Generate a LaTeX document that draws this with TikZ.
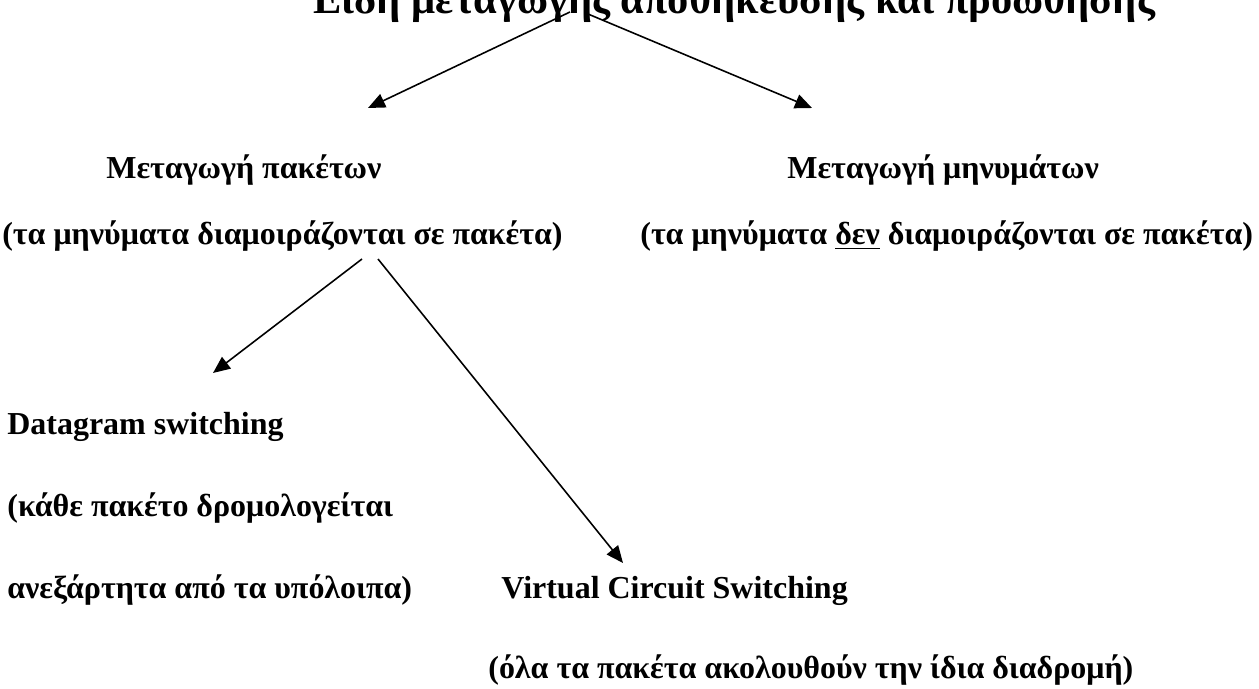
\documentclass[tikz,border=0pt]{standalone}
\usepackage{fontspec}
\setmainfont{Liberation Serif}
\usetikzlibrary{arrows.meta}

\begin{document}
\begin{tikzpicture}[
    x=0.02cm, y=-0.02cm,
    txt/.style={anchor=base west, inner sep=0pt, font=\fontsize{18.2}{22}\selectfont\bfseries},
    ttl/.style={anchor=base west, inner sep=0pt, font=\fontsize{24.2}{28}\selectfont\bfseries},
    arr/.style={-{Triangle[length=3.4mm, width=2.9mm]}, line width=0.9pt}
]
\useasboundingbox (0,0) rectangle (1259,689);
\clip (0,0) rectangle (1259,689);
% title, cut at the top
\node[ttl] (title) at (313,14) {Είδη μεταγωγής αποθήκευσης και προώθησης};
% two kinds
\node[txt] (pkt) at (106,179) {Μεταγωγή πακέτων};
\node[txt] (pktsub) at (2,245) {(τα μηνύματα διαμοιράζονται σε πακέτα)};
\node[txt] (msg) at (787,179) {Μεταγωγή μηνυμάτων};
\node[txt] (msgsub) at (640,245) {(τα μηνύματα \underline{δεν} διαμοιράζονται σε πακέτα)};
% packet switching
\node[txt] (dg) at (7,435) {Datagram switching};
\node[txt] (dgsub) at (7,517) {(κάθε πακέτο δρομολογείται};
\node[txt] (dgsub2) at (7,599) {ανεξάρτητα από τα υπόλοιπα)};
\node[txt] (vc) at (501,599) {Virtual Circuit Switching};
\node[txt] (vcsub) at (488,678) {(όλα τα πακέτα ακολουθούν την ίδια διαδρομή)};
% arrow ends
\coordinate (ttlL) at (570,12);
\coordinate (ttlR) at (588,14);
\coordinate (pktTip) at (368,108);
\coordinate (msgTip) at (812,108);
\coordinate (subL) at (362,259);
\coordinate (subR) at (378,259);
\coordinate (dgTip) at (213,373);
\coordinate (vcTip) at (623,563);
\draw[arr] (ttlL) -- (pktTip);
\draw[arr] (ttlR) -- (msgTip);
\draw[arr] (subL) -- (dgTip);
\draw[arr] (subR) -- (vcTip);
\end{tikzpicture}
\end{document}
